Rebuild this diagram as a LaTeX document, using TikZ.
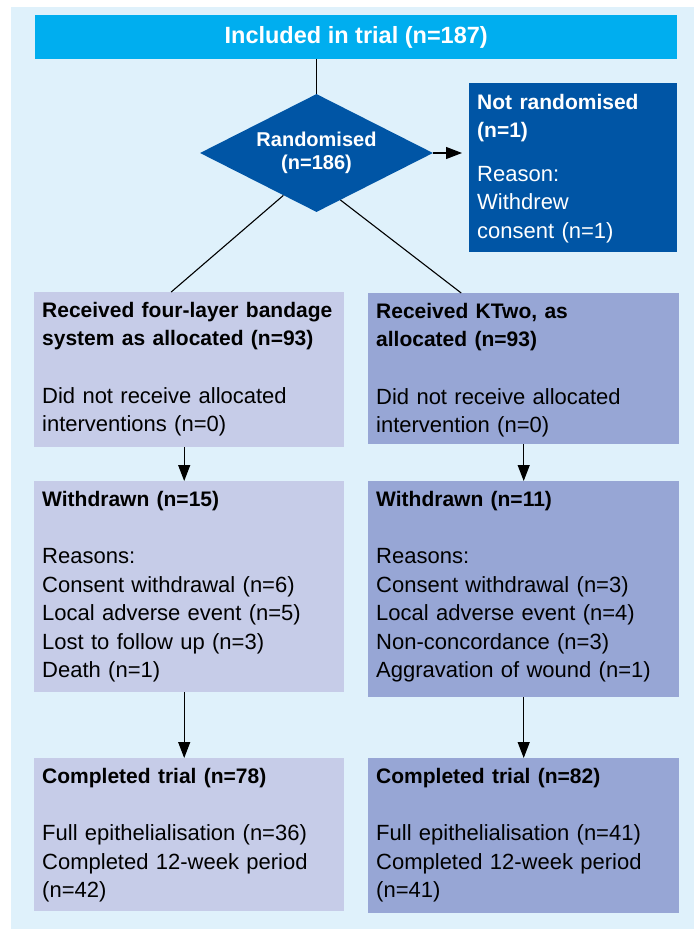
\documentclass[tikz,border=0pt]{standalone}
\usepackage{fontspec}
\setmainfont{Liberation Sans}
\usetikzlibrary{positioning,arrows.meta,shapes.geometric}
\definecolor{panelbg}{HTML}{DFF1FB}
\definecolor{trialcyan}{HTML}{00AEEF}
\definecolor{randblue}{HTML}{0055A5}
\definecolor{armone}{HTML}{C6CCE8}
\definecolor{armtwo}{HTML}{97A6D5}
\newcommand{\headfont}{\fontsize{21}{28.5}\selectfont\bfseries}
\newcommand{\bodyfont}{\fontsize{22}{28.5}\selectfont\mdseries}

\begin{document}
\begin{tikzpicture}[x=1pt, y=-1pt,
  stage/.style={rectangle, anchor=north west, align=left, inner xsep=8pt,
    inner ysep=0pt, text height=25pt, text width=294pt,
    font=\fontsize{22}{28.5}\selectfont},
  armA/.style={stage, fill=armone, text=black},
  armB/.style={stage, fill=armtwo, text=black},
  arr/.style={-{Triangle[length=16pt, width=12pt]}, line width=1.1pt},
  link/.style={line width=1.1pt}
]
\useasboundingbox (0,0) rectangle (694,929);
\fill[panelbg] (11,7) rectangle (694,929);

% Top: included in trial
\node[fill=trialcyan, text=white, anchor=north west, minimum width=642pt,
  minimum height=44pt, inner sep=0pt, font=\fontsize{23.5}{26}\selectfont\bfseries]
  (incl) at (35,15) {Included in trial (n=187)};

% Randomisation
\node[diamond, aspect=1.97, fill=randblue, text=white, minimum width=233pt,
  minimum height=118pt, inner sep=0pt, align=center,
  font=\fontsize{20}{23}\selectfont\bfseries]
  (rand) at (316.5,153) {Randomised\\(n=186)};
\draw[link] (incl.south -| rand.north) -- (rand.north);

% Not randomised
\node[stage, fill=randblue, text=white, text width=192pt, text height=26pt,
  text depth=143pt] (notrand) at (469,83)
  {\headfont Not randomised\\(n=1)\\[15pt]\bodyfont Reason:\\Withdrew\\consent (n=1)};
\draw[arr, shorten >=7pt] (rand.east) -- (notrand.west |- rand.east);

% Allocation
\node[armA, text depth=130pt] (lrecv) at (34,292)
  {\headfont Received four-layer bandage\\system as allocated (n=93)\\[29pt]\bodyfont
   Did not receive allocated\\interventions (n=0)};
\node[armB, text width=295pt, text depth=126pt] (rrecv) at (368,293)
  {\headfont Received KTwo, as\\allocated (n=93)\\[29pt]\bodyfont
   Did not receive allocated\\intervention (n=0)};
\draw[link] (rand.-128.6) -- ([xshift=-18pt]lrecv.north);
\draw[link] (rand.-63.4) -- ([xshift=-62.5pt]rrecv.north);

% Withdrawals
\node[armA, text depth=186pt] (lwith) at (34,481)
  {\headfont Withdrawn (n=15)\\[29pt]\bodyfont Reasons:\\Consent withdrawal (n=6)\\
   Local adverse event (n=5)\\Lost to follow up (n=3)\\Death (n=1)};
\node[armB, text width=295pt, text depth=191pt] (rwith) at (368,481)
  {\headfont Withdrawn (n=11)\\[29pt]\bodyfont Reasons:\\Consent withdrawal (n=3)\\
   Local adverse event (n=4)\\Non-concordance (n=3)\\Aggravation of wound (n=1)};
\draw[arr] ([xshift=-5pt]lrecv.south) -- ([xshift=-5pt]lwith.north);
\draw[arr] (rrecv.south) -- (rwith.north);

% Completed
\node[armA, text depth=128pt] (lcomp) at (34,758)
  {\headfont Completed trial (n=78)\\[29pt]\bodyfont Full epithelialisation (n=36)\\
   Completed 12-week period\\(n=42)};
\node[armB, text width=295pt, text depth=130pt] (rcomp) at (368,758)
  {\headfont Completed trial (n=82)\\[29pt]\bodyfont Full epithelialisation (n=41)\\
   Completed 12-week period\\(n=41)};
\draw[arr] ([xshift=-5pt]lwith.south) -- ([xshift=-5pt]lcomp.north);
\draw[arr] (rwith.south) -- (rcomp.north);
\end{tikzpicture}
\end{document}
